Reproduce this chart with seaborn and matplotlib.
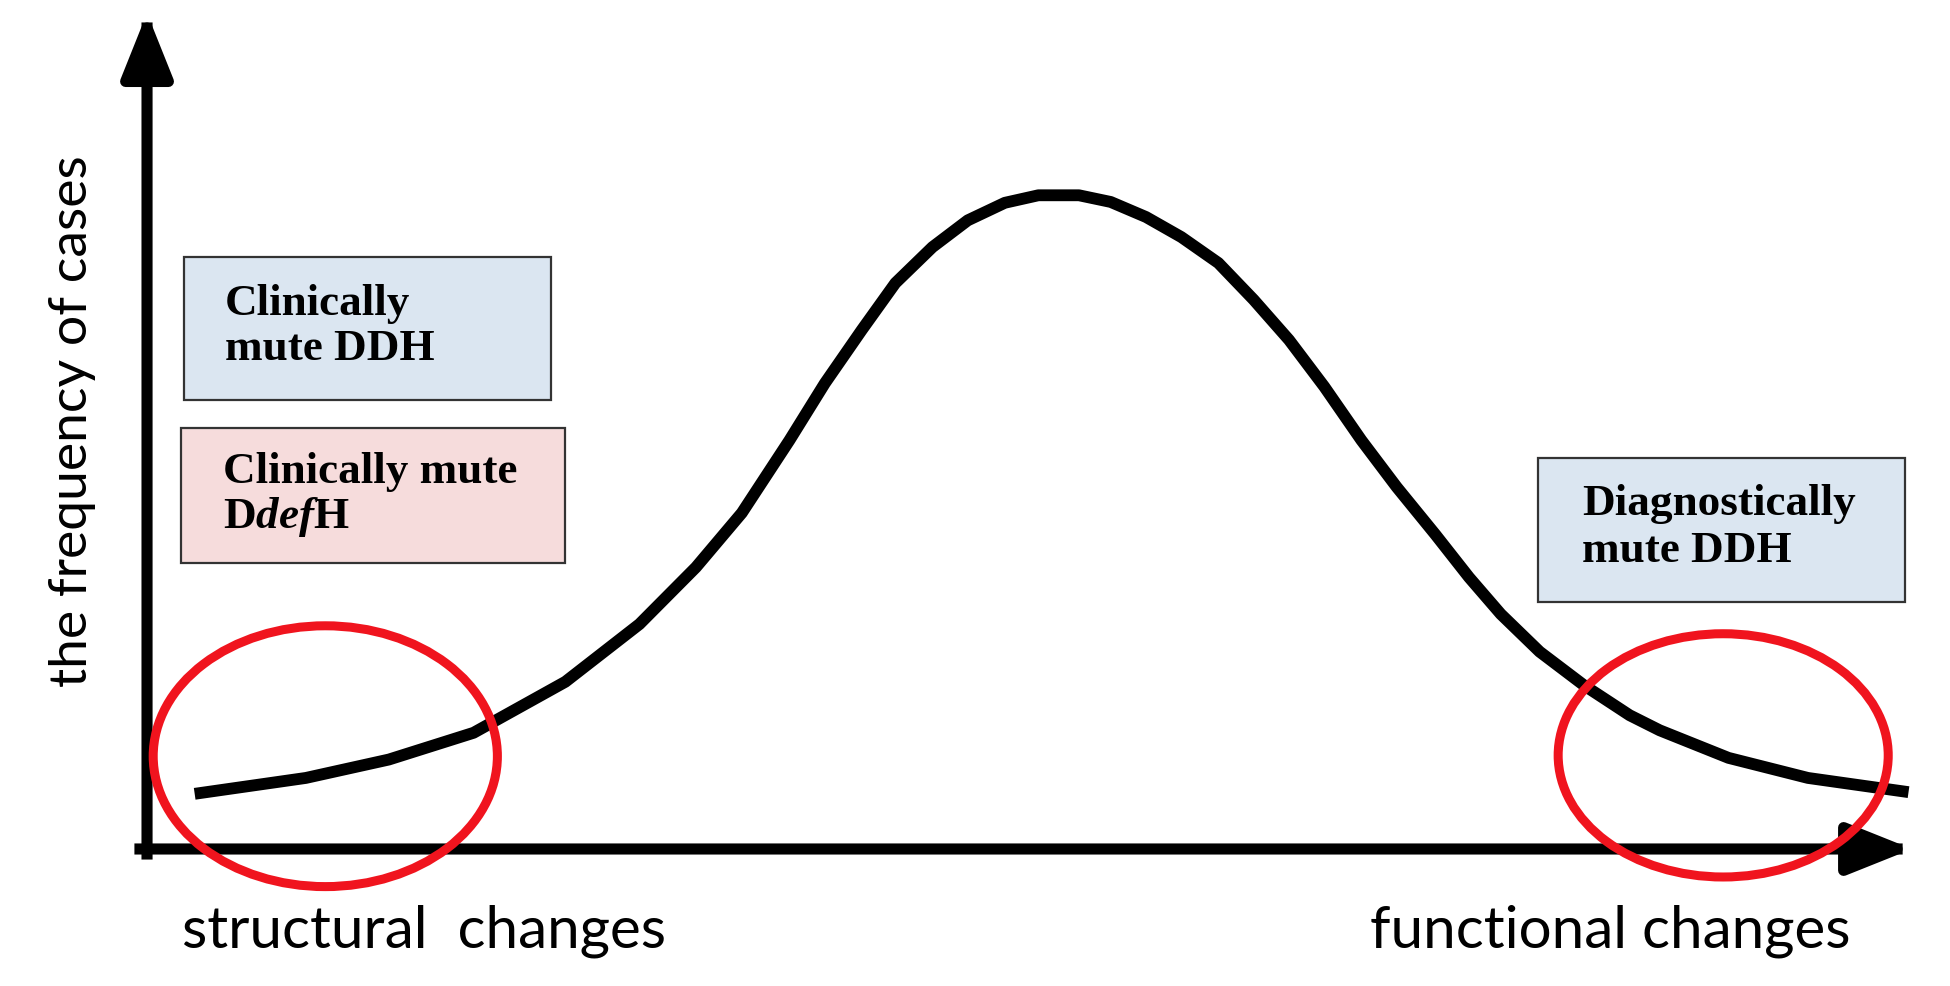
import matplotlib
matplotlib.use("Agg")
import matplotlib.pyplot as plt
import seaborn as sns
from matplotlib.patches import Rectangle, Ellipse

# curve (x: position along the axis, y: frequency, both 0-100)
curve_x = [2.7, 9.0, 13.7, 18.5, 23.7, 27.9, 31.1, 33.7, 36.4, 38.4, 40.5, 42.4,
           44.5, 46.5, 48.6, 50.5, 52.8, 54.6, 56.6, 58.6, 60.7, 62.7, 64.7, 66.7,
           68.8, 70.8, 73.0, 74.9, 76.7, 78.9, 81.4, 84.0, 85.7, 89.6, 94.1, 99.8]
curve_y = [6.6, 8.5, 10.7, 13.9, 20.0, 26.9, 33.7, 40.2, 48.9, 55.7, 62.1, 67.7,
           72.0, 75.2, 77.3, 78.2, 78.2, 77.4, 75.6, 73.2, 70.1, 65.7, 60.9, 55.3,
           48.9, 43.3, 37.6, 32.5, 28.1, 23.6, 19.6, 16.0, 14.2, 10.9, 8.5, 6.8]

axis_labels = ["structural  changes", "functional changes"]
ylabel = "the frequency of cases"

# boxes: (x0, x1, y0, y1), colour, text lines
box_extents = [(2.1, 22.9, 53.7, 70.8), (1.9, 23.7, 34.2, 50.4), (78.8, 99.6, 29.5, 46.8)]
box_colors = ["#dbe6f1", "#f6dcdc", "#dbe6f1"]
box_lines = [["Clinically", "mute DDH"],
             ["Clinically mute", r"$\mathrm{D}\mathit{def}\mathrm{H}$"],
             ["Diagnostically", "mute DDH"]]
box_text_x = [4.4, 4.3, 81.3]
box_baselines = [[63.9, 58.5], [43.8, 38.4], [40.0, 34.3]]

# red circles: centre x, centre y, width, height
ellipse_centers = [(10.1, 11.1), (89.3, 11.2)]
ellipse_sizes = [(19.5, 31.2), (18.7, 29.1)]

sns.set_style("white")
plt.rcParams["mathtext.fontset"] = "custom"
plt.rcParams["mathtext.rm"] = "Liberation Serif:bold"
plt.rcParams["mathtext.it"] = "Liberation Serif:italic:bold"
plt.rcParams["mathtext.bf"] = "Liberation Serif:bold"

fig = plt.figure(figsize=(19.5, 9.86), dpi=100)
ax = fig.add_axes([0, 0, 1, 1])
ax.set_xlim(-8.33, 102.15)
ax.set_ylim(-16.39, 101.56)
ax.set_axis_off()

# axes with arrows
arrow = dict(arrowstyle="-|>,head_length=0.55,head_width=0.22", lw=8, color="black",
             mutation_scale=70, shrinkA=0, shrinkB=0, capstyle="projecting")
ax.annotate("", xy=(0, 100), xytext=(0, -0.6), arrowprops=arrow)
ax.annotate("", xy=(100, 0), xytext=(-0.4, 0), arrowprops=arrow)

sns.lineplot(x=curve_x, y=curve_y, ax=ax, color="black", lw=8.5,
             solid_capstyle="butt", solid_joinstyle="round", legend=False)

for (x0, x1, y0, y1), col, lines, tx, bls in zip(box_extents, box_colors, box_lines,
                                                 box_text_x, box_baselines):
    ax.add_patch(Rectangle((x0, y0), x1 - x0, y1 - y0, facecolor=col,
                           edgecolor="#333333", lw=1.6, zorder=3))
    for line, bl in zip(lines, bls):
        ax.text(tx, bl, line, fontsize=32.5, fontweight="bold", family="Liberation Serif",
                color="black", ha="left", va="baseline", zorder=4)

for (cx, cy), (w, h) in zip(ellipse_centers, ellipse_sizes):
    ax.add_patch(Ellipse((cx, cy), w, h, fill=False, edgecolor="#f0141e", lw=6.5, zorder=5))

ax.text(-4.2, 51.2, ylabel, rotation=90, ha="center", va="center", fontsize=38.5,
        family="Lato", color="black")
ax.text(2.0, -11.8, axis_labels[0], ha="left", va="baseline", fontsize=42,
        family="Lato", color="black")
ax.text(69.3, -11.8, axis_labels[1], ha="left", va="baseline", fontsize=42,
        family="Lato", color="black")

fig.savefig("out.png", dpi=100)
